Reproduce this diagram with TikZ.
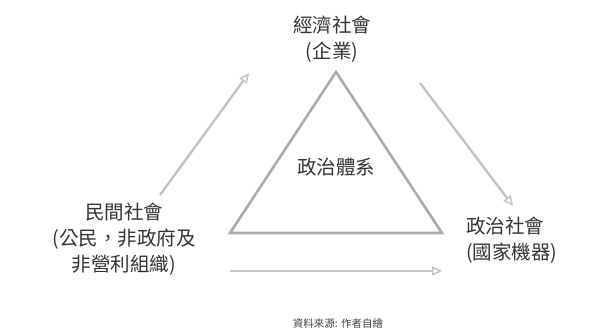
\documentclass[tikz,border=0pt]{standalone}
\usepackage{fontspec}
\setmainfont{Noto Sans CJK TC}
\usetikzlibrary{arrows.meta}
\tikzset{
  lbl/.style={text=black!80, font=\fontsize{19.5}{26}\selectfont, inner sep=0pt, align=center},
  srctext/.style={text=black!75, font=\fontsize{10.5}{12}\selectfont, inner sep=0pt},
  flow/.style={draw=black!24, line width=2.4pt, -{Triangle[open,length=10pt,width=9pt,line width=1.4pt]}},
  tri/.style={draw=black!33, line width=2.6pt, line join=miter}
}
\begin{document}
\begin{tikzpicture}[x=1pt,y=-1pt]
\useasboundingbox (0,0) rectangle (604,336);
\fill[white] (0,0) rectangle (604,336);
% triangle
\coordinate (ta) at (336,72);
\coordinate (tl) at (230,233);
\coordinate (tr) at (442,233);
\draw[tri] (ta) -- (tr) -- (tl) -- cycle;
% labels
\node[lbl] (econ) at (332,39) {經濟社會\\(企業)};
\node[lbl] (civil) at (124,239) {民間社會\\(公民，非政府及\\非營利組織)};
\node[lbl, align=left, anchor=west] (state) at (466,240) {政治社會\\(國家機器)};
\node[lbl] (pol) at (336,167) {政治體系};
\node[srctext] (src) at (338,323) {資料來源: 作者自繪};
% arrows
\coordinate (a1s) at (160,195);
\coordinate (a1e) at (249,73);
\coordinate (a2s) at (420,83);
\coordinate (a2e) at (513,206);
\coordinate (a3s) at (230,271);
\coordinate (a3e) at (442,271);
\draw[flow] (a1s) -- (a1e);
\draw[flow] (a2s) -- (a2e);
\draw[flow] (a3s) -- (a3e);
\end{tikzpicture}
\end{document}
